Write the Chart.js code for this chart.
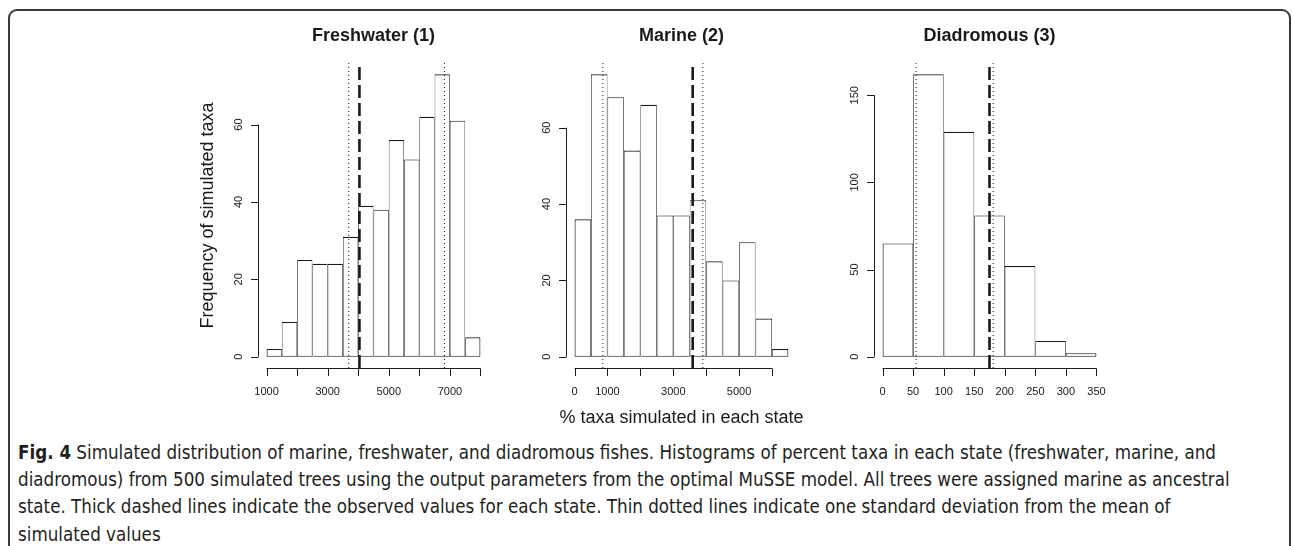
<!DOCTYPE html>
<html>
<head>
<meta charset="utf-8">
<title>Fig. 4 Simulated distribution of marine, freshwater, and diadromous fishes</title>
<script src="https://cdn.jsdelivr.net/npm/chart.js@4.4.1/dist/chart.umd.min.js"></script>
<style>
    html, body { margin: 0; padding: 0; background: #fff; }
    body { width: 1292px; height: 546px; position: relative; overflow: hidden; font-family: "Liberation Sans", Arial, sans-serif; }
    .frame { position: absolute; left: 8px; top: 9px; width: 1279px; height: 600px; border: 2px solid #3a3a3a; border-radius: 9px; box-sizing: content-box; }
    canvas.panel { position: absolute; top: 0; }
    .caption { position: absolute; left: 18px; top: 439px; font-size: 19px; line-height: 27.2px; color: #231f20; white-space: nowrap; transform-origin: 0 0;
               font-family: "Liberation Sans Narrow", "DejaVu Sans Condensed", "Liberation Sans", sans-serif; }
    .caption b { font-weight: bold; }
</style>
</head>
<body>
<div class="frame"></div>
<canvas class="panel" id="fresh" width="340" height="432"></canvas>
<canvas class="panel" id="marine" width="340" height="432"></canvas>
<canvas class="panel" id="dia" width="340" height="432"></canvas>
<div class="caption" id="caption">
    <div><span id="capLine1"><b>Fig. 4</b> Simulated distribution of marine, freshwater, and diadromous fishes. Histograms of percent taxa in each state (freshwater, marine, and</span></div>
    <div><span>diadromous) from 500 simulated trees using the output parameters from the optimal MuSSE model. All trees were assigned marine as ancestral</span></div>
    <div><span>state. Thick dashed lines indicate the observed values for each state. Thin dotted lines indicate one standard deviation from the mean of</span></div>
    <div><span>simulated values</span></div>
</div>
<script>
(() => {
    'use strict';

    // ── Freshwater (1) ───────────────────────────────────────────────────────
    const freshEdges = [1000, 1500, 2000, 2500, 3000, 3500, 4000, 4500, 5000, 5500, 6000, 6500, 7000, 7500, 8000];
    const freshCounts = [2, 9, 25, 24, 24, 31, 39, 38, 56, 51, 62, 73, 61, 5];
    const freshXTicks = [1000, 2000, 3000, 4000, 5000, 6000, 7000, 8000];
    const freshXLabels = ['1000', '', '3000', '', '5000', '', '7000', ''];
    const freshYTicks = [0, 20, 40, 60];
    const freshObserved = 4040;
    const freshSd = [3690, 6820];

    // ── Marine (2) ───────────────────────────────────────────────────────────
    const marineEdges = [0, 500, 1000, 1500, 2000, 2500, 3000, 3500, 4000, 4500, 5000, 5500, 6000, 6500];
    const marineCounts = [36, 74, 68, 54, 66, 37, 37, 41, 25, 20, 30, 10, 2];
    const marineXTicks = [0, 1000, 2000, 3000, 4000, 5000, 6000];
    const marineXLabels = ['0', '1000', '', '3000', '', '5000', ''];
    const marineYTicks = [0, 20, 40, 60];
    const marineObserved = 3590;
    const marineSd = [860, 3900];

    // ── Diadromous (3) ───────────────────────────────────────────────────────
    const diaEdges = [0, 50, 100, 150, 200, 250, 300, 350];
    const diaCounts = [65, 162, 129, 81, 52, 9, 2];
    const diaXTicks = [0, 50, 100, 150, 200, 250, 300, 350];
    const diaXLabels = ['0', '50', '100', '150', '200', '250', '300', '350'];
    const diaYTicks = [0, 50, 100, 150];
    const diaObserved = 175;
    const diaSd = [55, 181];

    const Y_TITLE = 'Frequency of simulated taxa';
    const X_TITLE = '% taxa simulated in each state';

    // ── Layout (R plot regions, in page pixels) ──────────────────────────────
    const CW = 340, CH = 432;
    const PAD_L = 100, PLOT_W = 231, PLOT_TOP = 63, PLOT_BOTTOM = 368;
    const INK = '#1a1a1a';
    const FONT = '"Liberation Sans", Arial, sans-serif';

    const panels = [
        { id: 'fresh', title: 'Freshwater (1)', plotLeft: 258, edges: freshEdges, counts: freshCounts,
          xTicks: freshXTicks, xLabels: freshXLabels, yTicks: freshYTicks, observed: freshObserved, sd: freshSd, yTitle: Y_TITLE },
        { id: 'marine', title: 'Marine (2)', plotLeft: 566, edges: marineEdges, counts: marineCounts,
          xTicks: marineXTicks, xLabels: marineXLabels, yTicks: marineYTicks, observed: marineObserved, sd: marineSd, xTitle: X_TITLE },
        { id: 'dia', title: 'Diadromous (3)', plotLeft: 874, edges: diaEdges, counts: diaCounts,
          xTicks: diaXTicks, xLabels: diaXLabels, yTicks: diaYTicks, observed: diaObserved, sd: diaSd }
    ];

    // Base-graphics style axes: line spans first..last tick, ticks point outward,
    // y labels parallel to the axis.
    function axesPlugin(p) {
        return {
            id: 'rAxes',
            afterDraw(chart) {
                const { ctx, chartArea: a, scales: { x, y } } = chart;
                ctx.save();
                ctx.strokeStyle = INK;
                ctx.fillStyle = INK;
                ctx.lineWidth = 1;

                // x axis
                const xb = Math.round(a.bottom) + 0.5;
                ctx.beginPath();
                ctx.moveTo(x.getPixelForValue(p.xTicks[0]), xb);
                ctx.lineTo(x.getPixelForValue(p.xTicks[p.xTicks.length - 1]), xb);
                p.xTicks.forEach(v => {
                    const px = Math.round(x.getPixelForValue(v)) + 0.5;
                    ctx.moveTo(px, xb);
                    ctx.lineTo(px, xb + 7.5);
                });
                ctx.stroke();
                ctx.font = '11px ' + FONT;
                ctx.textAlign = 'center';
                ctx.textBaseline = 'alphabetic';
                p.xTicks.forEach((v, i) => {
                    if (p.xLabels[i]) ctx.fillText(p.xLabels[i], x.getPixelForValue(v), xb + 26.5);
                });

                // y axis
                const yl = Math.round(a.left) + 0.5;
                ctx.beginPath();
                ctx.moveTo(yl, y.getPixelForValue(p.yTicks[0]));
                ctx.lineTo(yl, y.getPixelForValue(p.yTicks[p.yTicks.length - 1]));
                p.yTicks.forEach(v => {
                    const py = Math.round(y.getPixelForValue(v)) + 0.5;
                    ctx.moveTo(yl, py);
                    ctx.lineTo(yl - 7.5, py);
                });
                ctx.stroke();
                p.yTicks.forEach(v => {
                    ctx.save();
                    ctx.translate(yl - 16.5, y.getPixelForValue(v));
                    ctx.rotate(-Math.PI / 2);
                    ctx.fillText(String(v), 0, 0);
                    ctx.restore();
                });

                // panel title
                ctx.font = 'bold 18px ' + FONT;
                ctx.fillText(p.title, (a.left + a.right) / 2, 41);

                ctx.font = '18px ' + FONT;
                if (p.yTitle) {
                    ctx.save();
                    ctx.translate(a.left - 45.5, (a.top + a.bottom) / 2);
                    ctx.rotate(-Math.PI / 2);
                    ctx.fillText(p.yTitle, 0, 0);
                    ctx.restore();
                }
                if (p.xTitle) ctx.fillText(p.xTitle, (a.left + a.right) / 2, 423);
                ctx.restore();
            }
        };
    }

    function vline(v, yMin, yMax) {
        return [{ x: v, y: yMin }, { x: v, y: yMax }];
    }

    function makePanel(p) {
        const canvas = document.getElementById(p.id);
        canvas.style.left = (p.plotLeft - PAD_L) + 'px';

        const lo = p.edges[0], hi = p.edges[p.edges.length - 1];
        const xExt = (hi - lo) * 0.04;              // R's xaxs = "r"
        const top = Math.max(...p.counts);
        const yMin = -0.04 * top, yMax = 1.04 * top;
        const n = p.counts.length;
        const bars = p.counts.map((c, i) => ({ x: (p.edges[i] + p.edges[i + 1]) / 2, y: c }));

        const lineDs = (v, width, dash) => ({
            type: 'line',
            data: vline(v, yMin, yMax),
            borderColor: INK,
            borderWidth: width,
            borderDash: dash,
            pointRadius: 0,
            fill: false,
            order: 1
        });

        return new Chart(canvas, {
            type: 'bar',
            data: {
                datasets: [
                    {
                        type: 'bar',
                        data: bars,
                        backgroundColor: '#ffffff',
                        borderColor: INK,
                        // neighbours share an edge, so inner sides get half width each
                        borderWidth: ctx => ({
                            top: 1.1, bottom: 1,
                            left: ctx.dataIndex === 0 ? 1.1 : 0.75,
                            right: ctx.dataIndex === n - 1 ? 1.1 : 0.75
                        }),
                        borderSkipped: false,
                        barPercentage: 1,
                        categoryPercentage: 1,
                        inflateAmount: 0,
                        order: 2
                    },
                    lineDs(p.sd[0], 1, [1, 3]),
                    lineDs(p.sd[1], 1, [1, 3]),
                    lineDs(p.observed, 2.6, [13, 5])
                ]
            },
            options: {
                responsive: false,
                animation: false,
                events: [],
                layout: { padding: { left: PAD_L, right: CW - PAD_L - PLOT_W, top: PLOT_TOP, bottom: CH - PLOT_BOTTOM } },
                plugins: { legend: { display: false }, tooltip: { enabled: false }, title: { display: false } },
                scales: {
                    x: {
                        type: 'linear', display: false, offset: false,
                        min: lo - xExt, max: hi + xExt,
                        afterBuildTicks: s => { s.ticks = p.xTicks.map(v => ({ value: v })); }
                    },
                    y: {
                        type: 'linear', display: false,
                        min: yMin, max: yMax,
                        afterBuildTicks: s => { s.ticks = p.yTicks.map(v => ({ value: v })); }
                    }
                }
            },
            plugins: [axesPlugin(p)]
        });
    }

    if (typeof Chart !== 'undefined') panels.forEach(makePanel);

    // Caption is set in a condensed face; stretch it so line 1 spans the same width.
    const CAPTION_LINE1_WIDTH = 1198;
    const cap = document.getElementById('caption');
    const w = document.getElementById('capLine1').getBoundingClientRect().width;
    if (w > 0) cap.style.transform = `scaleX(${CAPTION_LINE1_WIDTH / w})`;
})();
</script>
</body>
</html>
